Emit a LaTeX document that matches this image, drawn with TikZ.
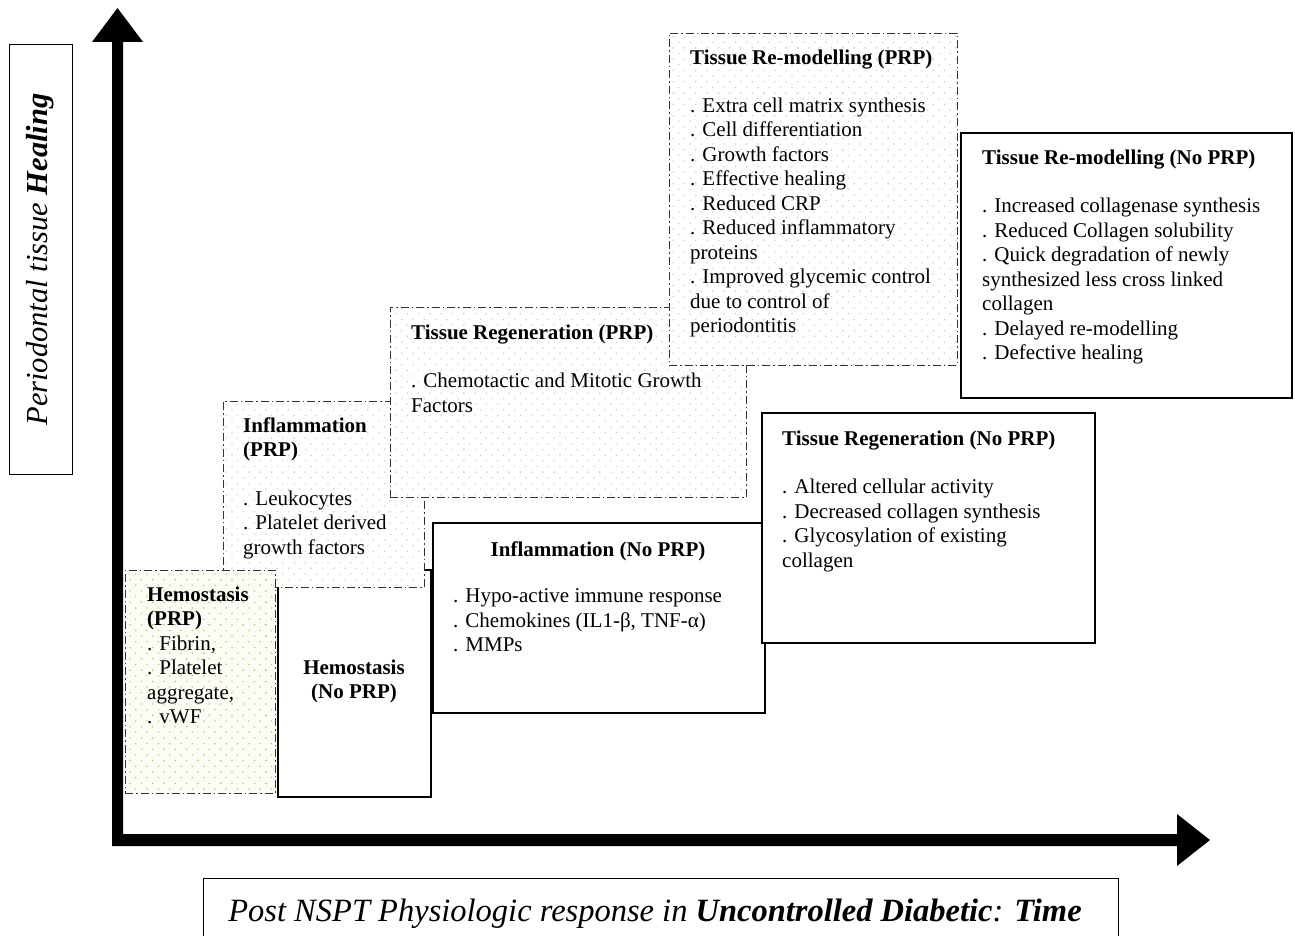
\documentclass[tikz,border=0pt]{standalone}
\usepackage{fontspec}
\setmainfont{Liberation Serif}
\usetikzlibrary{patterns.meta}
\definecolor{dotgreen}{HTML}{AFC784}
\definecolor{dotbeige}{HTML}{D6D2BE}
\definecolor{dotgray}{HTML}{CFCFCF}
\definecolor{creambg}{HTML}{FCFCF4}
\begin{document}
\begin{tikzpicture}[x=1pt,y=-1pt,
  prpbox/.style={draw=black!80, line width=0.9pt,
    dash pattern=on 8pt off 3pt on 1.5pt off 3pt,
    preaction={fill=white},
    pattern={Dots[distance=8pt,radius=0.9pt,angle=45]}, pattern color=#1,
    anchor=north west, inner sep=0pt, outer sep=0pt},
  noprpbox/.style={draw=black, line width=1.3pt, fill=white,
    anchor=north west, inner sep=0pt, outer sep=0pt},
  txt/.style={anchor=north west, align=left, inner sep=0pt,
    font=\fontsize{21}{24.5}\selectfont, execute at begin node={\strut}},
  ctxt/.style={anchor=north, align=center, inner sep=0pt,
    font=\fontsize{21}{24.5}\selectfont, execute at begin node={\strut}},
  lblbox/.style={draw=black, line width=1pt, fill=white,
    anchor=north west, inner sep=0pt, outer sep=0pt}
]
\useasboundingbox (0,0) rectangle (1295,936);
\fill[white] (0,0) rectangle (1295,936);

% axes
\coordinate (O) at (112,846);
\coordinate (ytip) at (117.5,8);
\coordinate (xtip) at (1210,840);
\fill[black] (O) -- (112,42) -- (92,42) -- (ytip) -- (143,42) -- (123,42)
  -- (123,834) -- (1177,834) -- (1177,814) -- (xtip) -- (1177,866)
  -- (1177,846) -- cycle;

% y label
\node[lblbox, minimum width=63pt, minimum height=429pt] (ybox) at (9,45) {};
\node[rotate=90, inner sep=0pt, font=\fontsize{30.5}{34}\selectfont\itshape]
  (ylabel) at (ybox.center) {Periodontal tissue \textbf{Healing}};

% x label
\node[lblbox, minimum width=915pt, minimum height=90pt] (xbox) at (203,878) {};
\node[anchor=base, inner sep=0pt, font=\fontsize{32.5}{36}\selectfont\itshape]
  (xlabel) at (655,921) {Post NSPT Physiologic response in \textbf{Uncontrolled Diabetic}: \textbf{Time}};

% Hemostasis (No PRP)
\node[noprpbox, minimum width=153pt, minimum height=227pt] (hemN) at (278,570) {};
\node[ctxt] (hemNt) at (354,659.4) {\textbf{Hemostasis}\\\textbf{(No PRP)}};

% Inflammation (PRP)
\node[prpbox=dotbeige, minimum width=201pt, minimum height=186pt] (infP) at (223,401) {};
\node[txt] (infPt) at (243,417.4) {\textbf{Inflammation}\\\textbf{(PRP)}\\[24pt]
. Leukocytes\\. Platelet derived\\growth factors};

% Hemostasis (PRP)
\node[prpbox=dotgreen, preaction={fill=creambg}, minimum width=150pt, minimum height=223pt] (hemP) at (125,570) {};
\node[txt] (hemPt) at (147,586.4) {\textbf{Hemostasis}\\\textbf{(PRP)}\\. Fibrin,\\. Platelet\\aggregate,\\. vWF};

% Inflammation (No PRP)
\node[noprpbox, minimum width=332pt, minimum height=190pt] (infN) at (433,523) {};
\node[ctxt] (infNh) at (598,539.4) {\textbf{Inflammation (No PRP)}};
\node[txt] (infNt) at (453,588.4) {. Hypo-active immune response\\. Chemokines (IL1-β, TNF-α)\\. MMPs};

% Tissue Regeneration (PRP)
\node[prpbox=dotbeige, minimum width=356pt, minimum height=190pt] (regP) at (390,307) {};
\node[txt] (regPt) at (411,324.4) {\textbf{Tissue Regeneration (PRP)}\\[24pt]
. Chemotactic and Mitotic Growth\\Factors};

% Tissue Regeneration (No PRP)
\node[noprpbox, minimum width=333pt, minimum height=230pt] (regN) at (762,413) {};
\node[txt] (regNt) at (782,430.4) {\textbf{Tissue Regeneration (No PRP)}\\[24pt]
. Altered cellular activity\\. Decreased collagen synthesis\\. Glycosylation of existing\\collagen};

% Tissue Re-modelling (PRP)
\node[prpbox=dotgray, minimum width=288pt, minimum height=332pt] (remP) at (669,33) {};
\node[txt] (remPt) at (690,49.4) {\textbf{Tissue Re-modelling (PRP)}\\[23.5pt]
. Extra cell matrix synthesis\\. Cell differentiation\\. Growth factors\\. Effective healing\\. Reduced CRP\\. Reduced inflammatory\\proteins\\. Improved glycemic control\\due to control of\\periodontitis};

% Tissue Re-modelling (No PRP)
\node[noprpbox, minimum width=331pt, minimum height=265pt] (remN) at (961,133) {};
\node[txt] (remNt) at (982,149.4) {\textbf{Tissue Re-modelling (No PRP)}\\[24pt]
. Increased collagenase synthesis\\. Reduced Collagen solubility\\. Quick degradation of newly\\synthesized less cross linked\\collagen\\. Delayed re-modelling\\. Defective healing};
\end{tikzpicture}
\end{document}
